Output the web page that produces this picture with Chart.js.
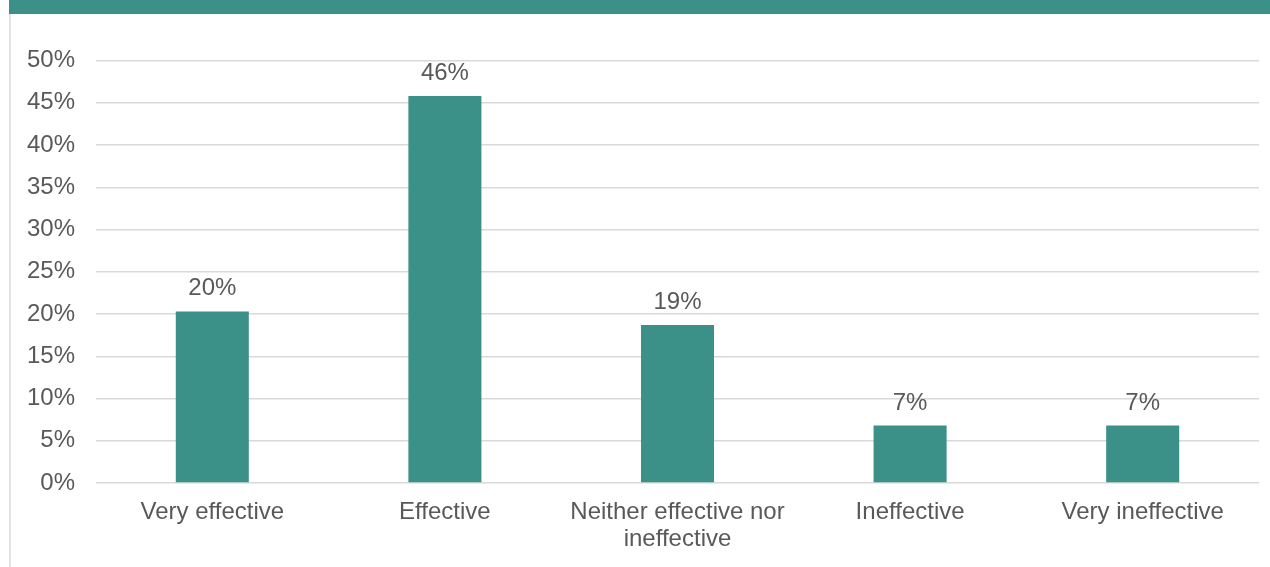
<!DOCTYPE html>
<html>
<head>
<meta charset="utf-8">
<script src="https://cdn.jsdelivr.net/npm/chart.js@4"></script>
<style>
  body { margin: 0; background: #fff; }
  #wrap { position: relative; width: 1270px; height: 567px; overflow: hidden; }
  #band { position: absolute; left: 9px; top: 0; width: 1261px; height: 14px; background: #3b9188; }
  #edge { position: absolute; left: 9px; top: 14px; width: 2px; height: 553px; background: #e3e3e3; }
  canvas { position: absolute; left: 0; top: 0; }
</style>
</head>
<body>
<div id="wrap">
  <div id="band"></div>
  <div id="edge"></div>
  <canvas id="myChart" width="1270" height="567"></canvas>
</div>
<script>
// 1. Chart data
const categories = [
    "Very effective",
    "Effective",
    ["Neither effective nor", "ineffective"],
    "Ineffective",
    "Very ineffective"
];
const shares = [20.3, 45.8, 18.7, 6.8, 6.8];
const shareLabels = ["20%", "46%", "19%", "7%", "7%"];
const yTicks = [0, 5, 10, 15, 20, 25, 30, 35, 40, 45, 50];

const teal = "#3b9188";
const textGrey = "#595959";
const fontFamily = "'Liberation Sans', Arial, sans-serif";

// 2. Value labels above each bar
const barLabels = {
    id: "barLabels",
    afterDatasetsDraw(chart) {
        const ctx = chart.ctx;
        const meta = chart.getDatasetMeta(0);
        ctx.save();
        ctx.fillStyle = textGrey;
        ctx.font = "24px " + fontFamily;
        ctx.textAlign = "center";
        ctx.textBaseline = "alphabetic";
        meta.data.forEach((bar, i) => {
            ctx.fillText(shareLabels[i], bar.x, bar.y - 16);
        });
        ctx.restore();
    }
};

// 3. Build chart
const ctx = document.getElementById("myChart").getContext("2d");
new Chart(ctx, {
    type: "bar",
    data: {
        labels: categories,
        datasets: [{
            data: shares,
            backgroundColor: teal,
            borderWidth: 0,
            categoryPercentage: 1,
            barPercentage: 0.314
        }]
    },
    options: {
        responsive: false,
        animation: false,
        layout: { padding: { left: 0, right: 11, top: 60.5, bottom: 0 } },
        plugins: {
            legend: { display: false },
            tooltip: { enabled: false }
        },
        scales: {
            y: {
                min: 0,
                max: 50,
                afterBuildTicks: scale => { scale.ticks = yTicks.map(v => ({ value: v })); },
                afterFit: scale => { scale.width = 96; },
                ticks: {
                    color: textGrey,
                    font: { size: 24, family: fontFamily },
                    padding: 21,
                    callback: v => v + "%"
                },
                grid: { color: "#d9d9d9", lineWidth: 1.5, drawTicks: false },
                border: { display: false }
            },
            x: {
                afterFit: scale => { scale.height = 84; },
                ticks: {
                    color: textGrey,
                    font: { size: 24, family: fontFamily, lineHeight: 1.12 },
                    padding: 16,
                    maxRotation: 0,
                    autoSkip: false
                },
                grid: { display: false, drawTicks: false },
                border: { display: false }
            }
        }
    },
    plugins: [barLabels]
});
</script>
</body>
</html>
